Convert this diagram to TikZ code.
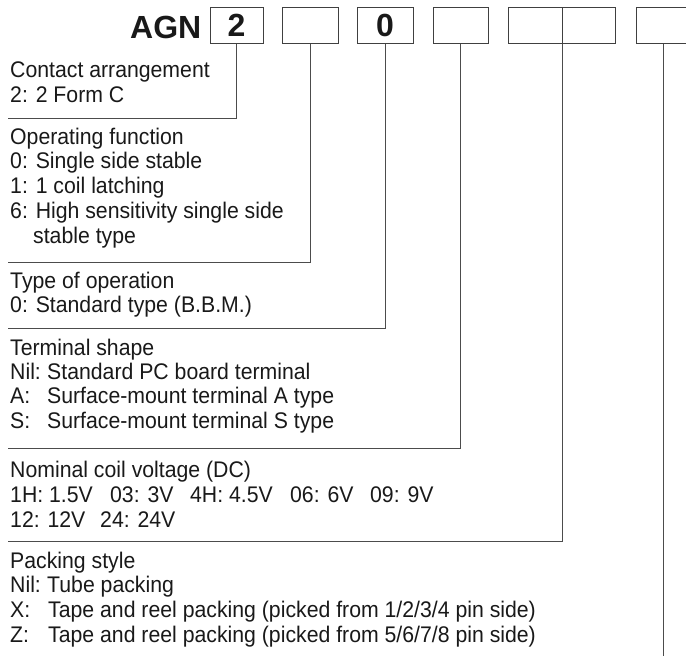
\documentclass[tikz,border=0pt]{standalone}
\usepackage{fontspec}
\setmainfont{Liberation Sans}
\newfontfamily\narrowfont[FakeStretch=0.94]{Liberation Sans}
\begin{document}
\begin{tikzpicture}[x=1pt,y=-1pt,
  codebox/.style={draw=black!75, line width=1pt, minimum height=36pt, inner sep=0pt, font=\fontsize{32}{36}\selectfont\bfseries, text=black!90},
  conn/.style={draw=black!70, line width=1pt},
  txt/.style={anchor=base west, inner sep=0pt, font=\narrowfont\fontsize{22.6}{25}\selectfont, text=black!90}]
\useasboundingbox (0,0) rectangle (686,657);
% header
\node[anchor=base west, inner sep=0pt, font=\fontsize{32}{36}\selectfont\bfseries, text=black!90] (agn) at (130,38) {AGN};
\node[codebox, minimum width=53pt] (b1) at (236.5,25) {2};
\node[codebox, minimum width=56pt] (b2) at (310,25) {};
\node[codebox, minimum width=56pt] (b3) at (385,25) {0};
\node[codebox, minimum width=55pt] (b4) at (460.5,25) {};
\node[codebox, minimum width=54pt] (b5a) at (535,25) {};
\node[codebox, minimum width=53pt] (b5b) at (588.5,25) {};
\node[codebox, minimum width=54pt] (b6) at (663,25) {};
% end points
\coordinate (e1) at (8,118);
\coordinate (e2) at (8,262);
\coordinate (e3) at (8,328);
\coordinate (e4) at (8,448);
\coordinate (e5) at (8,541);
\coordinate (e6) at (663,656);
% connectors
\draw[conn] (b1.south) |- (e1);
\draw[conn] (b2.south) |- (e2);
\draw[conn] (b3.south) |- (e3);
\draw[conn] (b4.south) |- (e4);
\draw[conn] (b5a.south east) |- (e5);
\draw[conn] (b6.south) -- (e6);
% texts
\node[txt] (t1a) at (10,77) {Contact arrangement};
\node[txt] (t1b) at (10,102) {2: 2 Form C};
\node[txt] (t2a) at (10,144) {Operating function};
\node[txt] (t2b) at (10,168.5) {0: Single side stable};
\node[txt] (t2c) at (10,193) {1: 1 coil latching};
\node[txt] (t2d) at (10,218) {6: High sensitivity single side};
\node[txt] (t2e) at (33,243) {stable type};
\node[txt] (t3a) at (10,288) {Type of operation};
\node[txt] (t3b) at (10,312) {0: Standard type (B.B.M.)};
\node[txt] (t4a) at (10,355) {Terminal shape};
\node[txt] (t4b) at (10,379) {\makebox[37pt][l]{Nil:}Standard PC board terminal};
\node[txt] (t4c) at (10,403.5) {\makebox[37pt][l]{A:}Surface-mount terminal A type};
\node[txt] (t4d) at (10,428) {\makebox[37pt][l]{S:}Surface-mount terminal S type};
\node[txt] (t5a) at (10,477) {Nominal coil voltage (DC)};
\node[txt] (t5b) at (10,502.5) {\makebox[100pt][l]{1H: 1.5V}\makebox[80pt][l]{03: 3V}\makebox[100pt][l]{4H: 4.5V}\makebox[80pt][l]{06: 6V}09: 9V};
\node[txt] (t5c) at (10,527.5) {\makebox[90pt][l]{12: 12V}24: 24V};
\node[txt] (t6a) at (10,568) {Packing style};
\node[txt] (t6b) at (10,592.5) {\makebox[37pt][l]{Nil:}Tube packing};
\node[txt] (t6c) at (10,617) {\makebox[38pt][l]{X:}Tape and reel packing (picked from 1/2/3/4 pin side)};
\node[txt] (t6d) at (10,642) {\makebox[38pt][l]{Z:}Tape and reel packing (picked from 5/6/7/8 pin side)};
\end{tikzpicture}
\end{document}
